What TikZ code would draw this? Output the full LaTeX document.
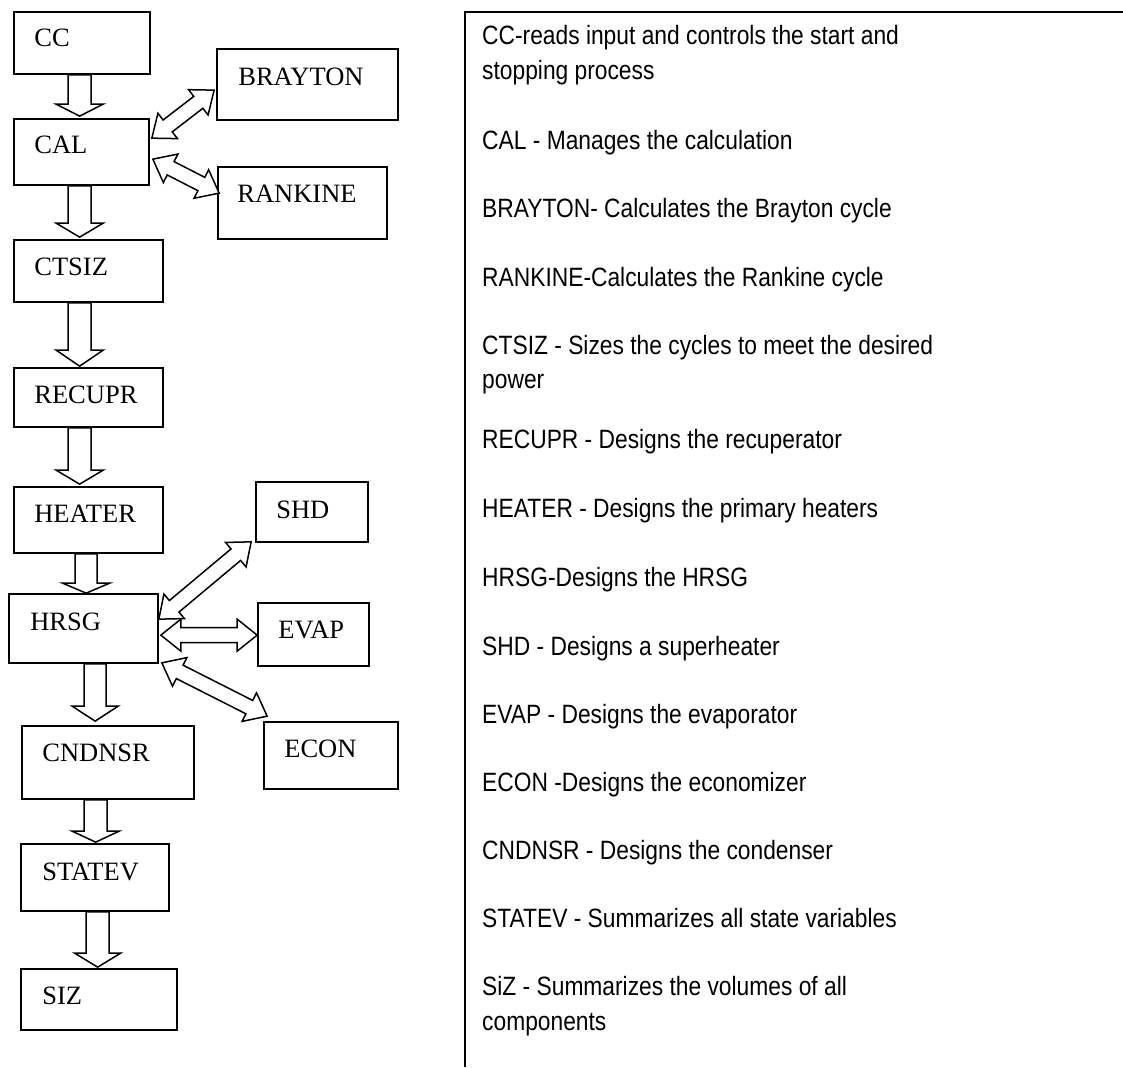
\documentclass[tikz,border=0pt]{standalone}
\usepackage{fontspec}
\setmainfont{Liberation Serif}
\newfontfamily\descfont[FakeStretch=0.86]{Liberation Sans}
\usetikzlibrary{calc,fit}
\tikzset{
  box/.style={draw, line width=1.7pt, inner sep=0pt, rectangle},
  boxtext/.style={anchor=base west, inner sep=0pt, font=\fontsize{26.5}{30}\selectfont},
  desc/.style={anchor=base west, inner sep=0pt, font=\descfont\fontsize{26.5}{34}\selectfont},
  blk/.style={draw, fill=white, line width=1.5pt, line join=miter},
  panel/.style={line width=1.7pt},
}
% single-headed block arrow: from, to, shaft half width, head half width, head length
\newcommand\sblk[5]{%
  \coordinate (tmpH) at ($(#2)!#5!(#1)$);
  \draw[blk] ($(#1)!#3!90:(#2)$) -- ($(tmpH)!#3!90:(#2)$) -- ($(tmpH)!#4!90:(#2)$) -- (#2)
    -- ($(tmpH)!#4!-90:(#2)$) -- ($(tmpH)!#3!-90:(#2)$) -- ($(#1)!#3!-90:(#2)$) -- cycle;}
% double-headed block arrow
\newcommand\dblk[5]{%
  \coordinate (tmpH) at ($(#2)!#5!(#1)$);
  \coordinate (tmpT) at ($(#1)!#5!(#2)$);
  \draw[blk] (#1) -- ($(tmpT)!#4!90:(#2)$) -- ($(tmpT)!#3!90:(#2)$) -- ($(tmpH)!#3!90:(#2)$)
    -- ($(tmpH)!#4!90:(#2)$) -- (#2) -- ($(tmpH)!#4!-90:(#2)$) -- ($(tmpH)!#3!-90:(#2)$)
    -- ($(tmpT)!#3!-90:(#2)$) -- ($(tmpT)!#4!-90:(#2)$) -- cycle;}
\begin{document}
\begin{tikzpicture}[x=1pt,y=-1pt]
\useasboundingbox (0,0) rectangle (1123,1067);
\fill[white] (0,0) rectangle (1123,1067);

% boxes
\node[box, fit={(14,12) (150,74)}] (cc) {};
\node[box, fit={(14,119) (149,185)}] (cal) {};
\node[box, fit={(217,49) (398,120)}] (brayton) {};
\node[box, fit={(218,167) (387,239)}] (rankine) {};
\node[box, fit={(14,240) (163,302)}] (ctsiz) {};
\node[box, fit={(14,368) (163,427)}] (recupr) {};
\node[box, fit={(14,487) (163,553)}] (heater) {};
\node[box, fit={(256,482) (368,542)}] (shd) {};
\node[box, fit={(9,594) (158,663)}] (hrsg) {};
\node[box, fit={(258,603) (369,666)}] (evap) {};
\node[box, fit={(264,722) (398,789)}] (econ) {};
\node[box, fit={(22,726) (194,799)}] (cndnsr) {};
\node[box, fit={(21,844) (169,911)}] (statev) {};
\node[box, fit={(21,969) (177,1030)}] (siz) {};

% box labels
\node[boxtext] (tcc) at ($(cc.north west)+(21,35)$) {CC};
\node[boxtext] (tcal) at ($(cal.north west)+(21,35)$) {CAL};
\node[boxtext] (tbrayton) at ($(brayton.north west)+(22,37)$) {BRAYTON};
\node[boxtext] (trankine) at ($(rankine.north west)+(20,36)$) {RANKINE};
\node[boxtext] (tctsiz) at ($(ctsiz.north west)+(21,36)$) {CTSIZ};
\node[boxtext] (trecupr) at ($(recupr.north west)+(21,36)$) {RECUPR};
\node[boxtext] (theater) at ($(heater.north west)+(21,36)$) {HEATER};
\node[boxtext] (tshd) at ($(shd.north west)+(21,37)$) {SHD};
\node[boxtext] (thrsg) at ($(hrsg.north west)+(22,37)$) {HRSG};
\node[boxtext] (tevap) at ($(evap.north west)+(21,36)$) {EVAP};
\node[boxtext] (tecon) at ($(econ.north west)+(21,36)$) {ECON};
\node[boxtext] (tcndnsr) at ($(cndnsr.north west)+(21,36)$) {CNDNSR};
\node[boxtext] (tstatev) at ($(statev.north west)+(22,37)$) {STATEV};
\node[boxtext] (tsiz) at ($(siz.north west)+(22,36)$) {SIZ};

% vertical block arrows
\coordinate (a1s) at ($(cc.south west)+(66.5,0)$);      \coordinate (a1e) at ($(cal.north west)+(66.5,-2)$);
\coordinate (a2s) at ($(cal.south west)+(66.5,0)$);     \coordinate (a2e) at ($(ctsiz.north west)+(66.5,-2)$);
\coordinate (a3s) at ($(ctsiz.south west)+(66.5,0)$);   \coordinate (a3e) at ($(recupr.north west)+(66.5,-1)$);
\coordinate (a4s) at ($(recupr.south west)+(66.5,0)$);  \coordinate (a4e) at ($(heater.north west)+(66.5,-2)$);
\coordinate (a5s) at ($(heater.south west)+(73,0)$);    \coordinate (a5e) at ($(hrsg.north west)+(78,0)$);
\coordinate (a6s) at ($(hrsg.south west)+(87,0)$);      \coordinate (a6e) at ($(cndnsr.north west)+(74,-4)$);
\coordinate (a7s) at ($(cndnsr.south west)+(74.5,0)$);  \coordinate (a7e) at ($(statev.north west)+(75.5,-1)$);
\coordinate (a8s) at ($(statev.south west)+(77.5,0)$);  \coordinate (a8e) at ($(siz.north west)+(77.5,-1)$);
\sblk{a1s}{a1e}{11.5pt}{23.5pt}{12pt}
\sblk{a2s}{a2e}{11.5pt}{23.5pt}{14pt}
\sblk{a3s}{a3e}{11.5pt}{23.5pt}{16pt}
\sblk{a4s}{a4e}{11.5pt}{23.5pt}{14pt}
\sblk{a5s}{a5e}{11pt}{23.5pt}{10pt}
\sblk{a6s}{a6e}{11pt}{23pt}{15pt}
\sblk{a7s}{a7e}{11.5pt}{23.5pt}{11pt}
\sblk{a8s}{a8e}{11.5pt}{23pt}{14pt}

% diagonal / horizontal double block arrows
\coordinate (d1a) at ($(cal.north east)+(2,20)$);     \coordinate (d1b) at ($(brayton.north west)+(-2,42)$);
\coordinate (d2a) at ($(cal.north east)+(3,41)$);     \coordinate (d2b) at ($(rankine.north west)+(2,27)$);
\coordinate (d3a) at ($(hrsg.north east)+(0,26)$);    \coordinate (d3b) at ($(shd.south west)+(-4,-1)$);
\coordinate (d4a) at ($(hrsg.north east)+(2,42)$);    \coordinate (d4b) at ($(evap.north west)+(0,33)$);
\coordinate (d5a) at ($(hrsg.south east)+(3,-1)$);    \coordinate (d5b) at ($(econ.north west)+(4,-5)$);
\dblk{d1a}{d1b}{7.5pt}{16pt}{20pt}
\dblk{d2a}{d2b}{7.5pt}{16pt}{20pt}
\dblk{d3a}{d3b}{7.5pt}{16pt}{20pt}
\dblk{d4a}{d4b}{7.5pt}{16pt}{20pt}
\dblk{d5a}{d5b}{7.5pt}{16pt}{20pt}

% description panel
\coordinate (pbot) at (465,1067);
\coordinate (pcorner) at (465,12);
\coordinate (pright) at (1123,12);
\draw[panel] (pbot) -- (pcorner) -- (pright);

\node[desc] (l1) at (482,45) {CC-reads input and controls the start and};
\node[desc] (l2) at (482,80) {stopping process};
\node[desc] (l3) at (482,150) {CAL - Manages the calculation};
\node[desc] (l4) at (482,218) {BRAYTON- Calculates the Brayton cycle};
\node[desc] (l5) at (482,286) {RANKINE-Calculates the Rankine cycle};
\node[desc] (l6) at (482,354) {CTSIZ - Sizes the cycles to meet the desired};
\node[desc] (l7) at (482,388) {power};
\node[desc] (l8) at (482,448) {RECUPR - Designs the recuperator};
\node[desc] (l9) at (482,517) {HEATER - Designs the primary heaters};
\node[desc] (l10) at (482,586) {HRSG-Designs the HRSG};
\node[desc] (l11) at (482,655) {SHD - Designs a superheater};
\node[desc] (l12) at (482,723) {EVAP - Designs the evaporator};
\node[desc] (l13) at (482,791) {ECON -Designs the economizer};
\node[desc] (l14) at (482,859) {CNDNSR - Designs the condenser};
\node[desc] (l15) at (482,927) {STATEV - Summarizes all state variables};
\node[desc] (l16) at (482,995) {SiZ - Summarizes the volumes of all};
\node[desc] (l17) at (482,1030) {components};
\end{tikzpicture}
\end{document}
